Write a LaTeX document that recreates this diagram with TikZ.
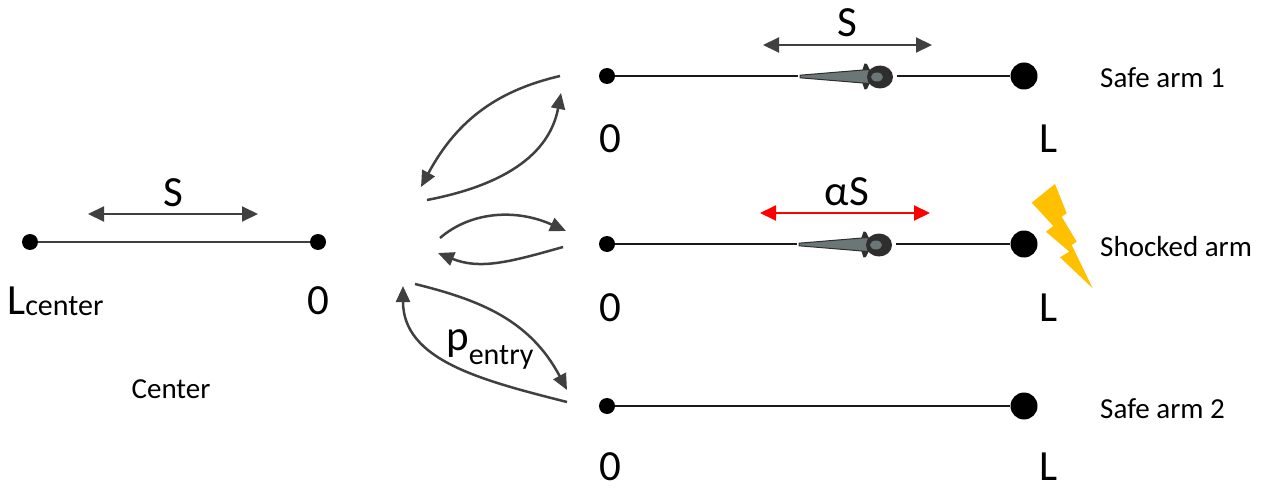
\documentclass[tikz,border=0pt]{standalone}
\usepackage{fontspec}
\setmainfont{Carlito}
\usetikzlibrary{arrows.meta}
\definecolor{arrowgray}{HTML}{404040}
\definecolor{boltgold}{HTML}{FFC000}
\definecolor{fishgray}{HTML}{6B7676}
\definecolor{fishdark}{HTML}{2E2E2E}
\tikzset{
  biglabel/.style={font=\fontsize{43}{48}\selectfont, inner sep=0pt},
  smalllabel/.style={font=\fontsize{29}{34}\selectfont, inner sep=0pt},
  enddot/.style={circle, fill=black, inner sep=0pt, minimum size=16pt},
  bigdot/.style={circle, fill=black, inner sep=0pt, minimum size=27pt},
  track/.style={line width=2pt, draw=black!90},
  centertrack/.style={line width=2pt, draw=arrowgray},
  spanarrow/.style={line width=2pt, draw=arrowgray,
    {Triangle[length=16pt,width=15pt]}-{Triangle[length=16pt,width=15pt]}},
  shockspan/.style={line width=2pt, draw=red,
    {Triangle[length=16pt,width=15pt]}-{Triangle[length=16pt,width=15pt]}},
  flow/.style={line width=2.5pt, draw=arrowgray,
    -{Triangle[length=16pt,width=14pt]}},
  % a larva seen from above, tail tip at the origin
  fish/.pic={
    \fill[white] (-2,-3.5) rectangle (97,3.5);
    \fill[fishdark] (62,-5) -- (64.5,-12.5) -- (67,-12) -- (70,-5.5) -- cycle;
    \fill[fishdark] (62,6) -- (64.5,13.5) -- (67,13) -- (70,6.5) -- cycle;
    \filldraw[fill=fishgray, draw=fishdark, line width=1pt]
      (0,-0.8) -- (69,-6.5) -- (69,7.5) -- (0,1.8) -- cycle;
    \fill[fishdark] (80,1) ellipse [x radius=13, y radius=11.5];
    \fill[fishgray] (77,1) ellipse [x radius=6, y radius=4.5];
  }
}
\begin{document}
\begin{tikzpicture}[x=1pt,y=-1pt]
\useasboundingbox (0,0) rectangle (1268,489);

% ---------- center segment ----------
\node[enddot] (cL) at (30,242) {};
\node[enddot] (c0) at (318,242) {};
\draw[centertrack] (cL) -- (c0);
\coordinate (csA) at (88,214);
\coordinate (csB) at (258,214);
\draw[spanarrow] (csA) -- (csB);
\node[biglabel, anchor=base] (cS) at (173,207) {S};
\node[biglabel, anchor=base west] (cLlab) at (7,314)
  {L{\fontsize{30}{34}\selectfont\raisebox{-1pt}{center}}};
\node[biglabel, anchor=base] (c0lab) at (318,314) {0};
\node[smalllabel, anchor=base] (ctitle) at (171,398) {Center};

% ---------- safe arm 1 ----------
\node[enddot] (a0) at (607,76) {};
\node[bigdot] (aL) at (1024,76) {};
\draw[track] (a0) -- (aL);
\pic at (800,76) {fish};
\coordinate (asA) at (763,45);
\coordinate (asB) at (932,45);
\draw[spanarrow] (asA) -- (asB);
\node[biglabel, anchor=base] (aS) at (847,37) {S};
\node[biglabel, anchor=base] (a0lab) at (610,153) {0};
\node[biglabel, anchor=base] (aLlab) at (1049,153) {L};
\node[smalllabel, anchor=base west] (atitle) at (1100,88) {Safe arm 1};

% ---------- shocked arm ----------
\node[enddot] (b0) at (607,244) {};
\node[bigdot] (bL) at (1024,244) {};
\draw[track] (b0) -- (bL);
\pic at (799,244) {fish};
\coordinate (bsA) at (760,213);
\coordinate (bsB) at (930,213);
\draw[shockspan] (bsA) -- (bsB);
\node[biglabel, anchor=base] (bS) at (847,205) {αS};
\node[biglabel, anchor=base] (b0lab) at (610,321) {0};
\node[biglabel, anchor=base] (bLlab) at (1049,321) {L};
\node[smalllabel, anchor=base west] (btitle) at (1100,256) {Shocked arm};
% lightning bolt
\fill[boltgold] (1031.7,202.7) -- (1055,184) -- (1066.7,213.3) -- (1061.7,216.7)
  -- (1076.7,241.7) -- (1071.7,245) -- (1092.7,288.3) -- (1060,257.3)
  -- (1069.3,251.7) -- (1046,231.7) -- (1053.3,226) -- cycle;

% ---------- safe arm 2 ----------
\node[enddot] (d0) at (607,406) {};
\node[bigdot] (dL) at (1024,406) {};
\draw[track] (d0) -- (dL);
\node[biglabel, anchor=base] (d0lab) at (610,480) {0};
\node[biglabel, anchor=base] (dLlab) at (1049,480) {L};
\node[smalllabel, anchor=base west] (dtitle) at (1100,418) {Safe arm 2};

% ---------- transitions between center and arms ----------
\coordinate (t1s) at (560,76);
\coordinate (t1e) at (421,187);
\draw[flow] (t1s) .. controls (500,90) and (458,118) .. (t1e);
\coordinate (t2s) at (427,200);
\coordinate (t2e) at (561,93);
\draw[flow] (t2s) .. controls (490,188) and (548,162) .. (t2e);

\coordinate (t3s) at (440,238);
\coordinate (t3e) at (566,231);
\draw[flow] (t3s) .. controls (470,212) and (515,208) .. (t3e);
\coordinate (t4s) at (563,247);
\coordinate (t4e) at (438,253);
\draw[flow] (t4s) .. controls (510,262) and (480,270) .. (t4e);

\coordinate (t5s) at (415,284);
\coordinate (t5e) at (567,390);
\draw[flow] (t5s) .. controls (480,300) and (530,320) .. (t5e);
\coordinate (t6s) at (567,402);
\coordinate (t6e) at (403,286);
\draw[flow] (t6s) .. controls (480,380) and (403,360) .. (t6e);
\node[biglabel, anchor=base west] (pent) at (446,350)
  {p{\fontsize{30}{34}\selectfont\raisebox{-14pt}{entry}}};
\end{tikzpicture}
\end{document}
